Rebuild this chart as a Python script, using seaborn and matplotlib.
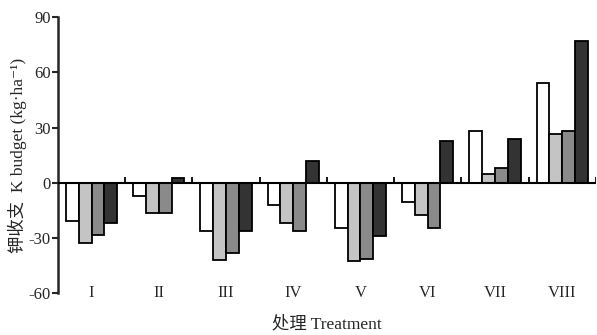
import matplotlib
matplotlib.use("Agg")
import matplotlib.pyplot as plt
import seaborn as sns
import pandas as pd
import numpy as np

treatments = ["I", "II", "III", "IV", "V", "VI", "VII", "VIII"]
series = ["S1", "S2", "S3", "S4"]
s1 = [-21, -7, -26.5, -12, -24.7, -10.7, 28, 54]
s2 = [-32.6, -16.5, -42, -22, -42.5, -17.5, 4.7, 26.5]
s3 = [-28.4, -16.5, -38, -26.5, -41.6, -24.7, 7.8, 28]
s4 = [-22, 2.5, -26, 12, -29, 22.5, 23.6, 77]
colors = ["#ffffff", "#c4c4c4", "#8a8a8a", "#333333"]
yticks = [-60, -30, 0, 30, 60, 90]

rows = []
for name, vals in zip(series, [s1, s2, s3, s4]):
    for t, v in zip(treatments, vals):
        rows.append({"Treatment": t, "Series": name, "Value": v})
df = pd.DataFrame(rows)

sns.set_theme(style="ticks")
fams = ["Liberation Serif", "Noto Sans CJK SC", "DejaVu Serif"]
plt.rcParams["font.family"] = fams

fig = plt.figure(figsize=(5.97, 3.35), dpi=100)
ax = fig.add_axes([0.097, 0.125, 0.901, 0.824])

sns.barplot(data=df, x="Treatment", y="Value", hue="Series", order=treatments,
            hue_order=series, palette=colors, width=0.76, edgecolor="black",
            linewidth=1.3, legend=False, ax=ax, errorbar=None)

ax.set_xlim(-0.5, len(treatments) - 0.5)
ax.set_ylim(-60, 90)
ax.set_yticks(yticks)
ax.set_yticklabels([str(v) for v in yticks], fontsize=12)
ax.tick_params(axis="y", direction="out", length=4, width=1.5, pad=1)
ax.tick_params(axis="x", length=0, pad=-6, labelsize=12)

for s in ["top", "right", "bottom"]:
    ax.spines[s].set_visible(False)
ax.spines["left"].set_linewidth(1.8)

ax.axhline(0, color="black", lw=1.5, zorder=5)
bounds = np.arange(len(treatments) + 1) - 0.5
ax.vlines(bounds[1:], 0, 3, color="black", lw=1.3, zorder=5)

ax.set_xlabel("处理 Treatment", fontsize=12.5, labelpad=11, family=fams)
ax.set_ylabel("钾收支  K budget (kg·ha\u207b\u00b9)", fontsize=12.5, labelpad=1,
              family=fams)

fig.savefig("out.png", dpi=100)
